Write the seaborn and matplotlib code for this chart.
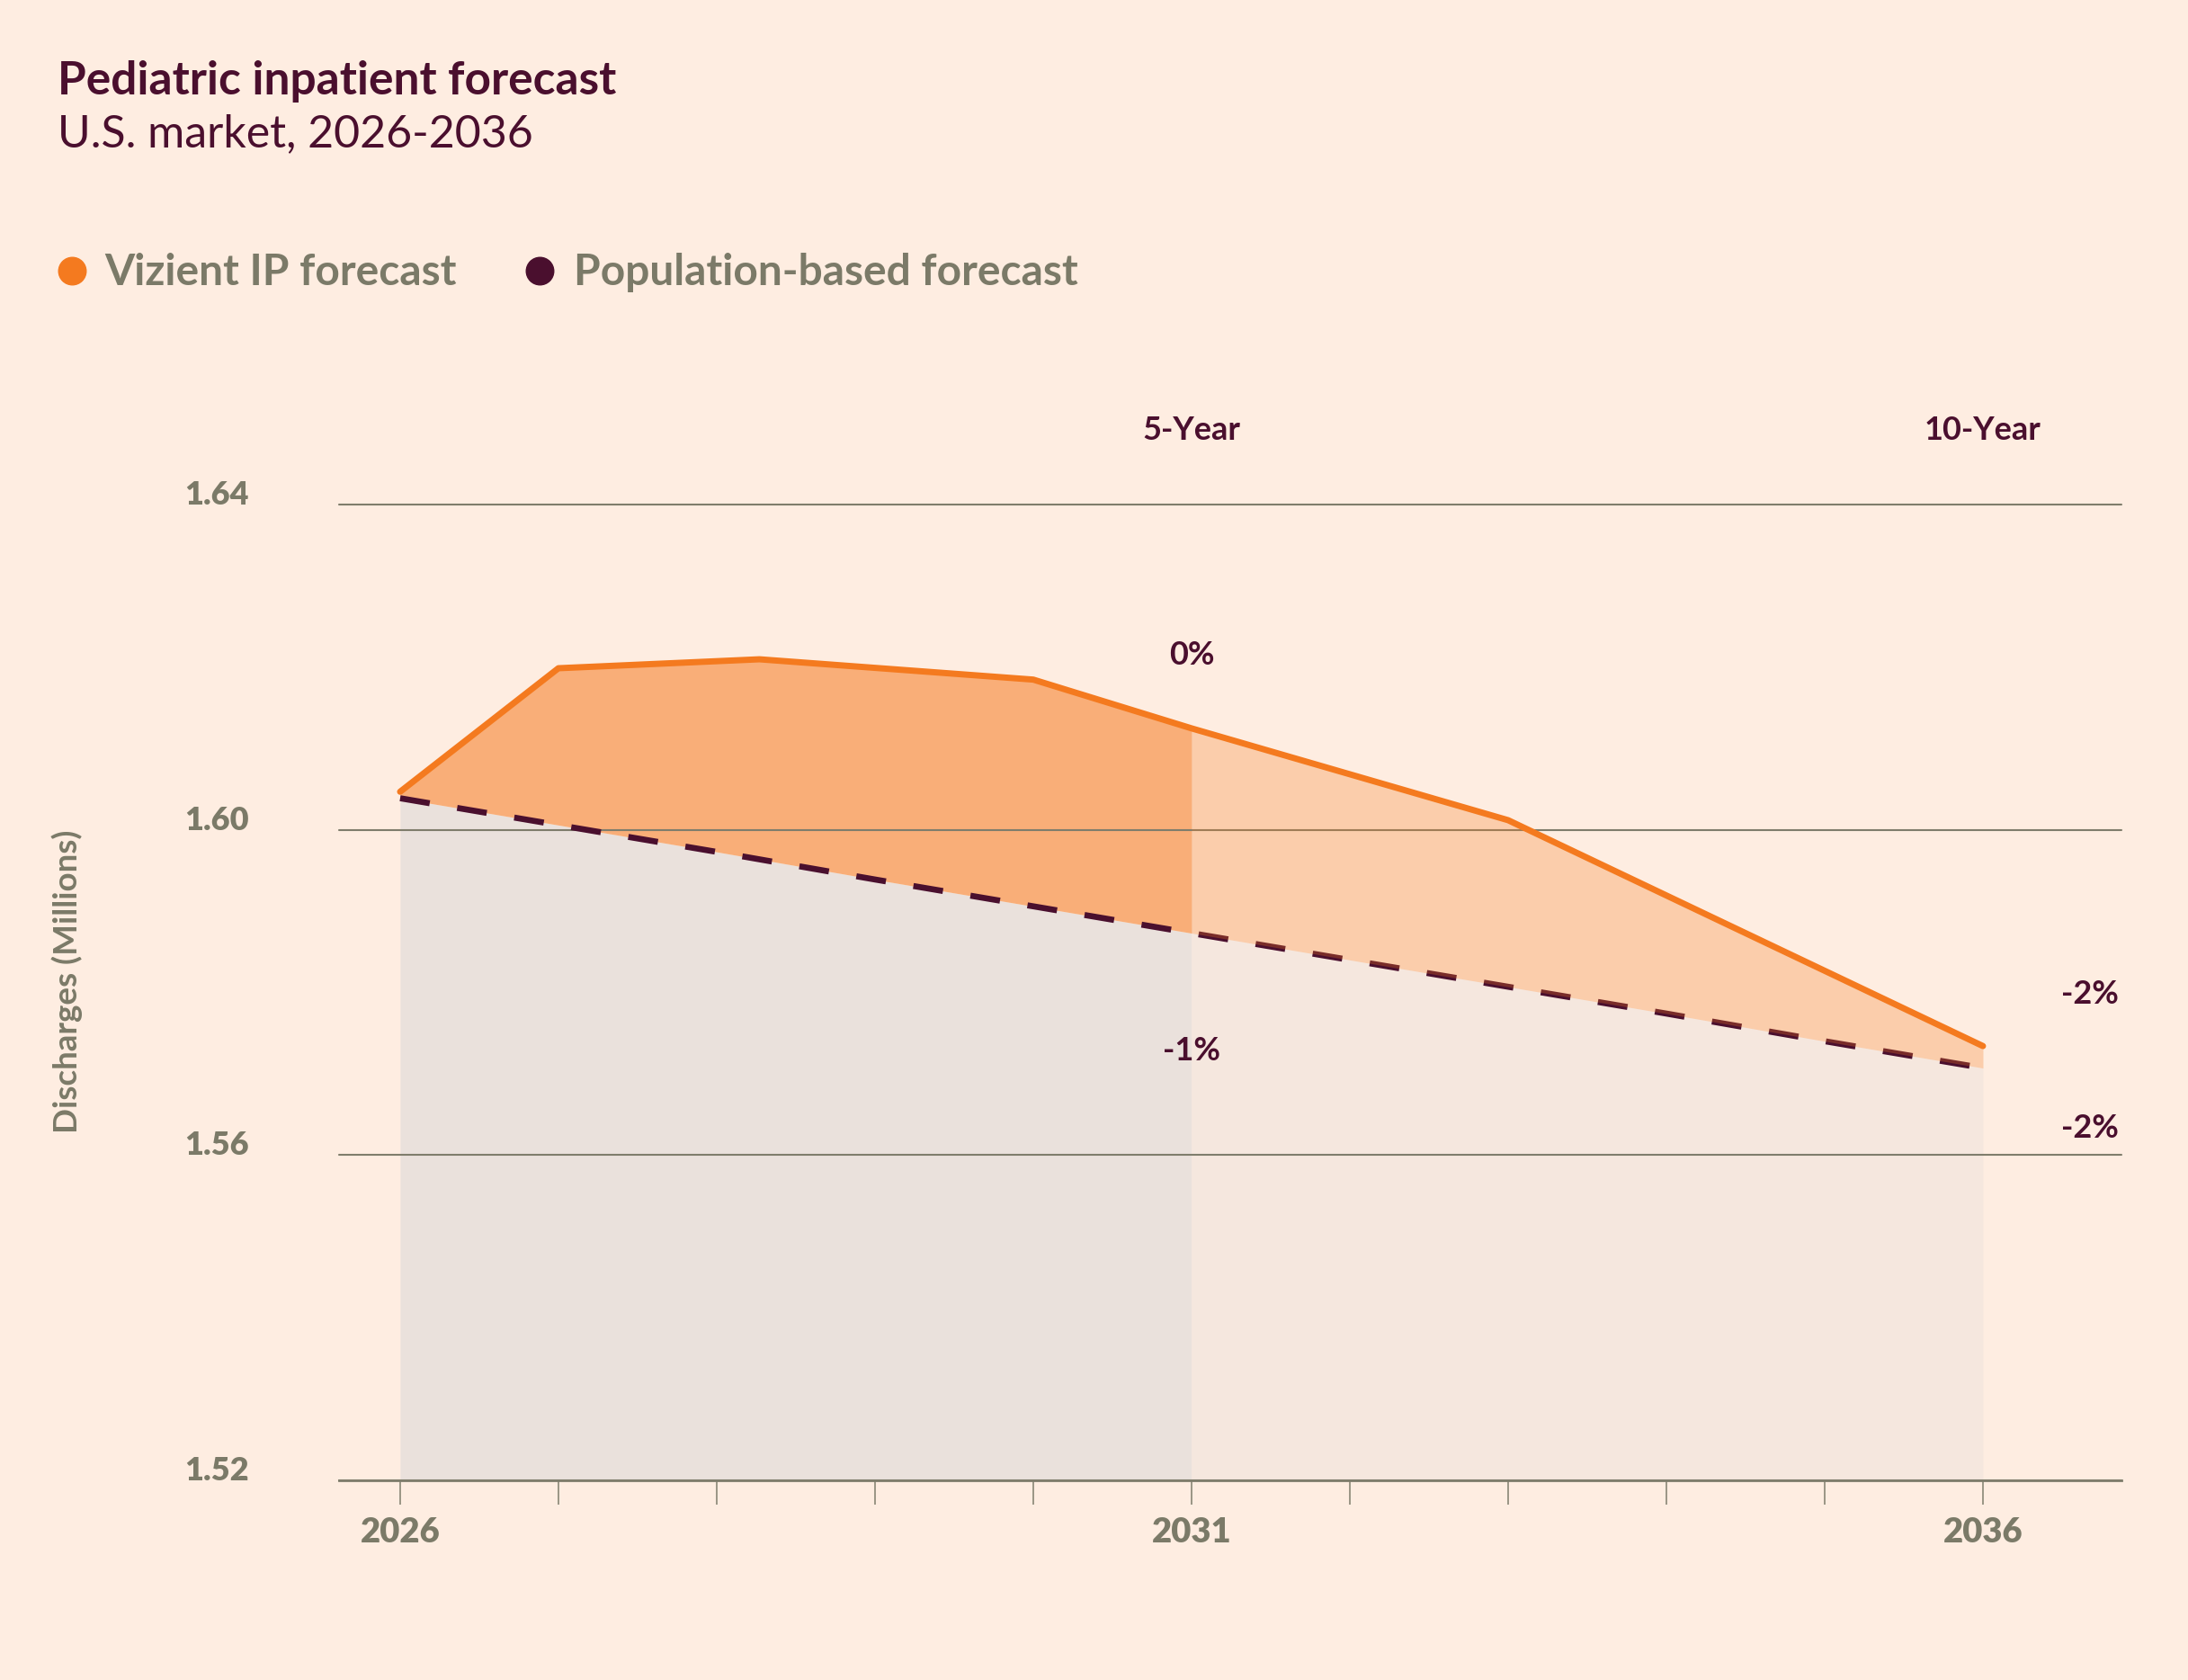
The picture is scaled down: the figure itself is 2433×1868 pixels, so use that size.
import numpy as np
import matplotlib
matplotlib.use("Agg")
import matplotlib.pyplot as plt
from matplotlib.lines import Line2D
import seaborn as sns

# ---------------- data ----------------
years = [2026, 2027, 2028, 2029, 2030, 2031, 2032, 2033, 2034, 2035, 2036]
population = [1.6039, 1.6006, 1.5973, 1.5939, 1.5906, 1.5873, 1.5840, 1.5807, 1.5774, 1.5740, 1.5707]
vizient_years = [2026, 2027, 2028.27, 2030, 2031, 2033, 2036]
vizient = [1.6047, 1.6199, 1.6210, 1.6185, 1.6125, 1.6012, 1.5734]
y_ticks = [1.52, 1.56, 1.60, 1.64]
x_labels = ["2026", "2031", "2036"]
series_names = ["Vizient IP forecast", "Population-based forecast"]
period_labels = ["5-Year", "10-Year"]
vizient_change = ["0%", "-2%"]
population_change = ["-1%", "-2%"]

# ---------------- style ----------------
BG = "#FEEDE1"
MAROON = "#4A0F2E"
ORANGE = "#F47A1F"
GRAY = "#7B7A68"
FILL_DARK = "#F9AE78"
UNDER_LEFT = "#EAE1DC"
UNDER_RIGHT = "#F5E7DE"

sns.set_theme(style="white")
plt.rcParams["font.family"] = ["Lato", "DejaVu Sans"]

W, H = 2433, 1868
fig = plt.figure(figsize=(W / 100, H / 100), dpi=100, facecolor=BG)
ax = fig.add_axes([377 / W, 1 - 1645.6 / H, (2359 - 377) / W, (1645.6 - 561.4) / H])
ax.set_facecolor(BG)

x_all = np.array(sorted(set(years) | set(vizient_years)), dtype=float)
pop_i = np.interp(x_all, years, population)
viz_i = np.interp(x_all, vizient_years, vizient)
split = 2031
left = x_all <= split
right = x_all >= split

ax.fill_between(x_all[left], 1.52, pop_i[left], color=UNDER_LEFT, lw=0, zorder=1)
ax.fill_between(x_all[right], 1.52, pop_i[right], color=UNDER_RIGHT, lw=0, zorder=1)
ax.fill_between(x_all[left], pop_i[left], viz_i[left], color=FILL_DARK, lw=0, zorder=1)
ax.fill_between(x_all[right], pop_i[right], viz_i[right], color=ORANGE, alpha=0.28,
                lw=0, zorder=3.5)

sns.lineplot(x=years, y=population, ax=ax, color=MAROON, linewidth=4.8,
             linestyle=(0, (5.0, 4.65)), zorder=3)
sns.lineplot(x=vizient_years, y=vizient, ax=ax, color=ORANGE, linewidth=5.0, zorder=4)

ax.set_xlim(2025.614, 2036.875)
ax.set_ylim(1.52, 1.64)
ax.set_axisbelow("line")

# y axis
ax.set_yticks(y_ticks)
ax.set_yticklabels([f"{v:.2f}" for v in y_ticks])
ax.grid(axis="y", color="#7F7D6C", lw=1.5)
for gl in ax.get_ygridlines():
    gl.set_clip_on(False)
ax.tick_params(axis="y", length=0, pad=72.5, labelsize=26, labelcolor=GRAY)
for lbl in ax.get_yticklabels():
    lbl.set_va("baseline")
    lbl.set_fontweight("heavy")

# x axis
ax.set_xticks([2026, 2031, 2036])
ax.set_xticklabels(x_labels)
ax.set_xticks(years, minor=True)
ax.tick_params(axis="x", which="both", bottom=True, length=19.5, width=1.1,
               color="#7F7D6C", pad=10, labelsize=27.5, labelcolor=GRAY)
for lbl in ax.get_xticklabels():
    lbl.set_fontweight("heavy")

for s in ["top", "right", "left"]:
    ax.spines[s].set_visible(False)
ax.spines["bottom"].set_color("#7F7D6C")
ax.spines["bottom"].set_linewidth(2.0)
ax.set_xlabel("")
ax.set_ylabel("")

# annotations
ax.text(2031, 1.6480, period_labels[0], ha="center", va="baseline", fontsize=26,
        fontweight="bold", color=MAROON)
ax.text(2036, 1.6480, period_labels[1], ha="center", va="baseline", fontsize=26,
        fontweight="bold", color=MAROON)
ax.text(2031, 1.6203, vizient_change[0], ha="center", va="baseline", fontsize=26,
        fontweight="bold", color=MAROON)
ax.text(2031, 1.5716, population_change[0], ha="center", va="baseline", fontsize=26,
        fontweight="bold", color=MAROON)
ax.text(2036.86, 1.5786, vizient_change[1], ha="right", va="baseline", fontsize=26,
        fontweight="bold", color=MAROON, clip_on=False)
ax.text(2036.86, 1.5621, population_change[1], ha="right", va="baseline", fontsize=26,
        fontweight="bold", color=MAROON, clip_on=False)

# titles
fig.text(64 / W, 1 - 105 / H, "Pediatric inpatient forecast", ha="left", va="baseline",
         fontsize=37, fontweight="bold", color=MAROON)
fig.text(64 / W, 1 - 163 / H, "U.S. market, 2026-2036", ha="left", va="baseline",
         fontsize=36, color=MAROON)

# legend
for cx, tx, col, name in [(80, 116, ORANGE, series_names[0]), (600, 638, MAROON, series_names[1])]:
    fig.add_artist(Line2D([cx / W], [1 - 301 / H], marker="o", markersize=22, ls="",
                          color=col, transform=fig.transFigure))
    fig.text(tx / W, 1 - 317 / H, name, ha="left", va="baseline", fontsize=34.5,
             fontweight="bold", color=GRAY)

# y axis title
fig.text(75 / W, 1 - 1091 / H, "Discharges (Millions)", rotation=90, ha="center",
         va="center", fontsize=26.5, fontweight="bold", color=GRAY)

fig.savefig("out.png", dpi=100, facecolor=BG)
